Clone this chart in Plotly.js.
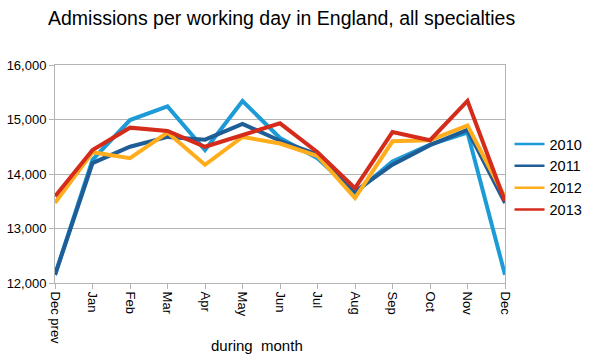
<!DOCTYPE html>
<html>
<head>
<meta charset="utf-8">
<script src="https://cdn.plot.ly/plotly-3.0.1.min.js"></script>
<style>html,body{margin:0;padding:0;background:#fff;}#chart{width:593px;height:363px;}</style>
</head>
<body>
<div id="chart"></div>
<script>
const months = ["Dec prev","Jan","Feb","Mar","Apr","May","Jun","Jul","Aug","Sep","Oct","Nov","Dec"];
const y2010 = [12150,14260,14990,15240,14440,15340,14660,14290,13650,14230,14540,14760,12150];
const y2011 = [12150,14200,14500,14680,14630,14920,14610,14360,13680,14170,14530,14810,13470];
const y2012 = [13470,14400,14290,14760,14170,14680,14560,14330,13560,14600,14620,14890,13570];
const y2013 = [13590,14440,14850,14790,14500,14720,14930,14400,13740,14770,14620,15340,13500];
const seriesNames = ["2010","2011","2012","2013"];
const colors = ["#1d9bd6","#1f5d97","#ffad1c","#d42b1b"];
const values = [y2010,y2011,y2012,y2013];

const traces = values.map((v,i)=>({
  x: months, y: v, type: 'scatter', mode: 'lines', name: seriesNames[i],
  line: {color: colors[i], width: 4}, showlegend: false
}));
// legend entries with thinner lines, as in the reference
seriesNames.forEach((n,i)=>traces.push({
  x: [null], y: [null], type: 'scatter', mode: 'lines', name: n,
  line: {color: colors[i], width: 2.5}, showlegend: true
}));

const layout = {
  width: 593, height: 363,
  margin: {l: 55, r: 88, t: 65, b: 80, autoexpand: false},
  paper_bgcolor: '#fff', plot_bgcolor: '#fff',
  font: {family: 'Liberation Sans, Arial, sans-serif', size: 13, color: '#000'},
  title: {text: 'Admissions per working day in England, all specialties',
    font: {size: 19.5, color: '#000'}, x: 48/593, xanchor: 'left', xref: 'container',
    y: 1 - 18/363, yanchor: 'middle', yref: 'container'},
  showlegend: true,
  legend: {x: 1.01, xanchor: 'left', y: (283-177)/218, yanchor: 'middle', font: {size: 14.5},
    tracegroupgap: 0},
  xaxis: {type: 'category', range: [0, 12], showgrid: false, showline: true,
    linecolor: '#b3b3b3', linewidth: 1, mirror: true, ticks: 'outside', ticklen: 5,
    tickcolor: '#b3b3b3', tickangle: 90, tickfont: {size: 13}, zeroline: false},
  yaxis: {range: [12000, 16000], dtick: 1000, tickformat: ',', showgrid: true,
    gridcolor: '#b3b3b3', gridwidth: 1, showline: true, linecolor: '#b3b3b3',
    mirror: true, ticks: 'outside', ticklen: 5, tickcolor: '#b3b3b3',
    tickfont: {size: 13}, zeroline: false},
  annotations: [{text: 'during\u00a0 month', xref: 'paper', yref: 'paper',
    x: (257-55)/450, y: -(345-283)/218, xanchor: 'center', yanchor: 'middle',
    showarrow: false, font: {size: 15}}]
};
Plotly.newPlot('chart', traces, layout, {displayModeBar: false, staticPlot: true});
</script>
</body>
</html>
